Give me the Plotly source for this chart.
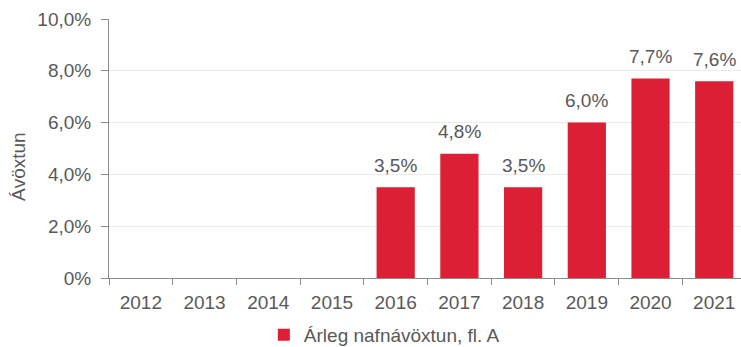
import plotly.graph_objects as go

# Annual nominal return, fund class A
years = ["2012", "2013", "2014", "2015", "2016", "2017", "2018", "2019", "2020", "2021"]
returns = [None, None, None, None, 3.5, 4.8, 3.5, 6.0, 7.7, 7.6]

y_tickvals = [0, 2, 4, 6, 8, 10]
y_ticktext = ["0%", "2,0%", "4,0%", "6,0%", "8,0%", "10,0%"]

series_name = "Árleg nafnávöxtun, fl. A"
axis_title = "Ávöxtun"

RED = "#DC1F35"
TEXT = "#595959"
AXIS = "#8C8C8C"
GRID = "#EBEBEB"
FONT = "Arial, Liberation Sans, sans-serif"
FS = 19

W, H = 741, 347
M_L, M_R, M_T, M_B = 109, 0, 19, 69

fig = go.Figure()
fig.add_trace(go.Bar(
    x=years,
    y=returns,
    name=series_name,
    marker=dict(color=RED, line=dict(width=0)),
    showlegend=True,
))

# value labels above the bars
def fmt(v):
    return f"{v:.1f}".replace(".", ",") + "%"

for i, v in enumerate(returns):
    if v is None:
        continue
    fig.add_annotation(
        x=i, y=v, xref="x", yref="y",
        text=fmt(v), showarrow=False,
        yanchor="middle", yshift=22,
        font=dict(family=FONT, size=FS, color=TEXT),
    )

# rotated y-axis title
plot_h = H - M_T - M_B
fig.add_annotation(
    x=(18 - M_L) / (W - M_L - M_R), y=(H - M_B - 167) / plot_h,
    xref="paper", yref="paper",
    text=axis_title, textangle=-90, showarrow=False,
    xanchor="center", yanchor="middle",
    font=dict(family=FONT, size=FS, color=TEXT),
)

fig.update_layout(
    width=W, height=H, autosize=False,
    margin=dict(l=M_L, r=M_R, t=M_T, b=M_B, pad=0),
    paper_bgcolor="white", plot_bgcolor="white",
    font=dict(family=FONT, size=FS, color=TEXT),
    bargap=0.4,
    legend=dict(
        orientation="h", x=0.245, xanchor="left",
        yref="container", y=1 - 335 / H, yanchor="middle",
        font=dict(family=FONT, size=FS, color=TEXT),
        bgcolor="rgba(0,0,0,0)", borderwidth=0,
    ),
    xaxis=dict(
        type="category", categoryorder="array", categoryarray=years,
        range=[-0.5, 9.42], automargin=False,
        showline=True, linecolor=AXIS, linewidth=1,
        ticks="outside", tickson="boundaries", ticklen=6, tickcolor=AXIS,
        ticklabelstandoff=7,
        showgrid=False, zeroline=False,
        tickfont=dict(family=FONT, size=FS, color=TEXT),
    ),
    yaxis=dict(
        range=[0, 10], automargin=False,
        tickvals=y_tickvals, ticktext=y_ticktext,
        showline=True, linecolor=AXIS, linewidth=1,
        ticks="outside", ticklen=7, tickcolor=AXIS,
        ticklabelstandoff=6,
        showgrid=True, gridcolor=GRID, gridwidth=1,
        zeroline=False,
        tickfont=dict(family=FONT, size=FS, color=TEXT),
    ),
)

fig.write_html("out.html")
